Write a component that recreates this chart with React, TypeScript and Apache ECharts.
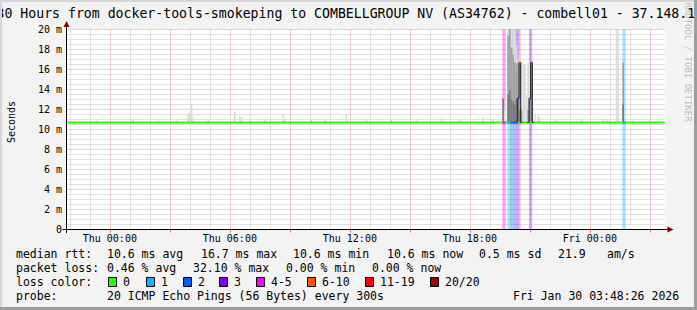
import React, { useEffect, useRef } from 'react';
import * as echarts from 'echarts';

// ---------- categories (5‑minute RRD steps) ----------
const DAY_NAMES = ['Wed', 'Thu', 'Fri'];
const FIRST_SLOT_MINUTES = 21 * 60 + 50; // Wed 21:50
const SLOT_MINUTES = 5;
const SLOT_COUNT = 360;
const pad = (n: number) => (n < 10 ? '0' + n : '' + n);
const categories: string[] = [];
for (let i = 0; i < SLOT_COUNT; i++) {
  const t = FIRST_SLOT_MINUTES + i * SLOT_MINUTES;
  const d = Math.floor(t / 1440);
  const m = t % 1440;
  categories.push(`${DAY_NAMES[d]} ${pad(Math.floor(m / 60))}:${pad(m % 60)}`);
}

// ---------- values ----------
const Y_MIN = 0;
const Y_MAX = 20;
const Y_STEP = 2;
const MEDIAN_RTT = 10.7; // ms, drawn median line level
// [slot index, median ms]
const medianSpikes: [number, number][] = [
  [271, 13.1], [272, 16.7], [278, 13.1], [279, 16.7],
];
// [slot index, loss class index]
const lossEvents: [number, number][] = [
  [262, 4], [263, 4], [265, 1], [266, 1], [267, 2], [268, 2], [269, 2],
  [270, 3], [271, 3], [272, 5], [278, 2], [279, 4], [334, 1], [335, 1],
];
// smoke layers: [slot index, low ms, high ms]
const smokeLight: [number, number, number][] = [
  [5, 10.6, 10.9], [18, 10.6, 10.9], [40, 10.6, 11.0], [55, 10.6, 10.9], [66, 10.6, 11.0],
  [73, 10.6, 11.6], [74, 10.6, 11.7], [75, 10.6, 12.6], [76, 10.6, 11.2],
  [85, 10.6, 11.0], [101, 10.6, 11.8], [104, 10.6, 11.3], [105, 10.6, 11.2], [110, 10.6, 11.1],
  [119, 10.6, 11.0], [130, 10.6, 11.5], [131, 10.6, 11.1], [147, 10.6, 11.0], [155, 10.6, 11.0],
  [168, 10.6, 11.6], [180, 10.6, 11.0], [195, 10.6, 11.1], [210, 10.6, 11.0], [225, 10.6, 11.2],
  [236, 10.6, 11.0], [250, 10.6, 11.2], [256, 10.6, 11.0],
  [262, 10.6, 13.1], [263, 10.6, 12.0], [265, 10.6, 20], [266, 10.6, 20], [267, 10.6, 20],
  [268, 10.6, 20], [269, 10.6, 20], [270, 10.6, 18.5], [271, 10.6, 17.0], [272, 10.6, 17.5],
  [273, 10.6, 16.8], [274, 10.6, 16.6], [275, 10.6, 16.5], [276, 10.6, 13.5], [277, 10.6, 16.7],
  [278, 10.6, 16.7], [279, 10.6, 16.7], [281, 10.6, 11.6],
  [283, 10.6, 11.4], [284, 10.6, 11.2], [294, 10.6, 11.0], [309, 10.6, 11.0], [322, 10.6, 11.0],
  [324, 10.6, 11.1], [326, 10.6, 11.0], [330, 10.6, 20], [331, 10.6, 20], [340, 10.6, 10.9],
  [350, 10.6, 11.0],
];
const smokeMid: [number, number, number][] = [
  [265, 10.6, 19.4], [266, 10.6, 20], [267, 10.6, 18.2], [268, 10.6, 17.5], [269, 10.6, 16.7],
  [270, 10.6, 16.5], [271, 10.6, 16.7], [272, 10.6, 16.7], [273, 10.6, 12.0], [277, 10.6, 12.0],
  [334, 10.6, 16.7],
];
const smokeDark: [number, number, number][] = [
  [262, 10.6, 13.1], [265, 10.6, 13.5], [266, 10.6, 14.0], [267, 10.6, 13.0], [268, 10.6, 12.8],
  [269, 10.6, 12.5], [270, 10.6, 13.1], [271, 10.6, 13.1], [272, 10.6, 12.0], [278, 10.6, 13.1],
  [279, 10.6, 16.7], [334, 10.6, 12.5],
];

const LOSS_COLORS = ['#26ff00', '#00b8ff', '#0059ff', '#7e00ff', '#ff00ff', '#ff5500', '#ff0000', '#a10000'];
const LOSS_LABELS = ['0', '1', '2', '3', '4-5', '6-10', '11-19', '20/20'];

const LEGEND_ROWS: { y: number; items: [number, string][] }[] = [
  { y: 254, items: [[16, 'median rtt:'], [107, '10.6 ms avg'], [201, '16.7 ms max'], [293, '10.6 ms min'], [387, '10.6 ms now'], [479, '0.5 ms sd'], [558, '21.9'], [607, 'am/s']] },
  { y: 268, items: [[16, 'packet loss:'], [107, '0.46 % avg'], [193, '32.10 % max'], [286, '0.00 % min'], [372, '0.00 % now']] },
  { y: 282, items: [[16, 'loss color:']] },
  { y: 296, items: [[16, 'probe:'], [107, '20 ICMP Echo Pings (56 Bytes) every 300s'], [513, 'Fri Jan 30 03:48:26 2026']] },
];
const LOSS_BOX_X = [108, 146, 183, 219, 256, 307, 365, 430];

const TITLE = '30 Hours from docker-tools-smokeping to COMBELLGROUP NV (AS34762) - combell01 - 37.148.1';

const MONO = '"DejaVu Sans Mono", monospace';

function rgba(hex: string, a: number) {
  const n = parseInt(hex.slice(1), 16);
  return `rgba(${(n >> 16) & 255},${(n >> 8) & 255},${n & 255},${a})`;
}
function parseHM(v: string) {
  const hm = v.slice(4);
  return { h: +hm.slice(0, 2), m: +hm.slice(3, 5) };
}
const labelFn = (_i: number, v: string) => { const { h, m } = parseHM(v); return m === 0 && h % 6 === 0; };
const redFn = (_i: number, v: string) => { const { h, m } = parseHM(v); return m === 0 && h % 3 === 0; };
const grayFn = (_i: number, v: string) => { const { h, m } = parseHM(v); return m === 0 && h % 3 !== 0; };

function smokeSeries(data: [number, number, number][], color: string, z: number) {
  return {
    type: 'custom',
    xAxisIndex: 1,
    z,
    silent: true,
    encode: { x: 0, y: [1, 2] },
    data,
    renderItem: (_p: any, api: any) => {
      const x = api.value(0);
      const p0 = api.coord([x, api.value(1)]);
      const p1 = api.coord([x, api.value(2)]);
      const w = api.size([1, 0])[0];
      return { type: 'rect', shape: { x: p0[0] - w / 2, y: p1[1], width: w, height: p0[1] - p1[1] }, style: { fill: color } };
    },
  };
}

export default function App() {
  const ref = useRef<HTMLDivElement>(null);
  useEffect(() => {
    document.body.style.margin = '0';
    if (!ref.current) return;
    const chart = echarts.init(ref.current, undefined, { renderer: 'svg' });

    const medianMap = new Map<number, number>(medianSpikes);
    const greenLine = categories.map(() => MEDIAN_RTT);
    const stepLine: (number | string)[] = categories.map(() => '-');
    medianSpikes.forEach(([i, v]) => {
      stepLine[i] = v;
      if (stepLine[i - 1] === '-') stepLine[i - 1] = MEDIAN_RTT;
      if (stepLine[i + 1] === '-') stepLine[i + 1] = MEDIAN_RTT;
    });
    const medianColored = lossEvents.map(([i, c]) => [i, medianMap.get(i) ?? MEDIAN_RTT, c]);

    const graphics: any[] = [];
    // frame
    graphics.push({ type: 'rect', shape: { x: 0, y: 0, width: 697, height: 2 }, style: { fill: '#d6d6d6' }, z: 100 });
    graphics.push({ type: 'rect', shape: { x: 0, y: 0, width: 2, height: 310 }, style: { fill: '#d6d6d6' }, z: 100 });
    graphics.push({ type: 'rect', shape: { x: 0, y: 307, width: 697, height: 3 }, style: { fill: '#9c9c9c' }, z: 100 });
    graphics.push({ type: 'rect', shape: { x: 694, y: 0, width: 3, height: 310 }, style: { fill: '#9c9c9c' }, z: 100 });
    // title
    graphics.push({ type: 'text', x: -3.5, y: 13, style: { text: TITLE, fill: '#000', font: `13.2px ${MONO}`, textAlign: 'left', textVerticalAlign: 'middle' }, z: 50 });
    // watermark
    graphics.push({ type: 'text', x: 688, y: 62, rotation: -Math.PI / 2, style: { text: 'RRDTOOL / TOBI OETIKER', fill: '#bdbdbd', font: `9px ${MONO}`, textAlign: 'center', textVerticalAlign: 'middle' }, z: 40 });
    // y axis name
    graphics.push({ type: 'text', x: 11, y: 122, rotation: Math.PI / 2, style: { text: 'Seconds', fill: '#000', font: `10px ${MONO}`, textAlign: 'center', textVerticalAlign: 'middle' }, z: 50 });
    // axes lines & arrows
    graphics.push({ type: 'line', shape: { x1: 62.5, y1: 229.5, x2: 668, y2: 229.5 }, style: { stroke: '#000', lineWidth: 1 }, z: 60 });
    graphics.push({ type: 'line', shape: { x1: 66.5, y1: 233, x2: 66.5, y2: 26 }, style: { stroke: '#000', lineWidth: 1 }, z: 60 });
    graphics.push({ type: 'polygon', shape: { points: [[66.5, 21], [63.5, 27], [69.5, 27]] }, style: { fill: '#800000' }, z: 61 });
    graphics.push({ type: 'polygon', shape: { points: [[673.5, 229.5], [667.5, 226.5], [667.5, 232.5]] }, style: { fill: '#800000' }, z: 61 });
    // legend text
    LEGEND_ROWS.forEach((row) => {
      row.items.forEach(([x, t]) => {
        graphics.push({ type: 'text', x, y: row.y, style: { text: t, fill: '#000', font: `11.5px ${MONO}`, textAlign: 'left', textVerticalAlign: 'middle' }, z: 50 });
      });
    });
    LOSS_COLORS.forEach((c, k) => {
      const bx = LOSS_BOX_X[k];
      graphics.push({ type: 'rect', shape: { x: bx + 0.5, y: 277.5, width: 8, height: 9 }, style: { fill: c, stroke: '#000', lineWidth: 1 }, z: 50 });
      graphics.push({ type: 'text', x: bx + 15, y: 282, style: { text: LOSS_LABELS[k], fill: '#000', font: `11.5px ${MONO}`, textAlign: 'left', textVerticalAlign: 'middle' }, z: 50 });
    });

    const option: any = {
      animation: false,
      backgroundColor: '#f3f3f3',
      grid: { left: 66.5, top: 29.5, width: (SLOT_COUNT - 1) * 600 / SLOT_COUNT, height: 200, show: true, backgroundColor: '#ffffff', borderWidth: 0 },
      xAxis: [
        {
          type: 'category', data: categories, boundaryGap: false, position: 'bottom',
          axisLine: { show: false }, axisTick: { show: false }, axisLabel: { show: false },
          splitLine: { show: true, interval: grayFn, lineStyle: { color: '#c4c4c4', width: 1, type: [1, 1] } },
        },
        {
          type: 'category', data: categories, boundaryGap: false, position: 'bottom',
          axisLine: { show: false },
          axisTick: { show: true, interval: redFn, length: 3, lineStyle: { color: '#d07070' } },
          axisLabel: { interval: labelFn, fontFamily: MONO, fontSize: 10, color: '#000', margin: 4 },
          splitLine: { show: true, interval: redFn, lineStyle: { color: '#e29a9a', width: 1, type: [1, 1] } },
        },
      ],
      yAxis: {
        type: 'value', min: Y_MIN, max: Y_MAX, interval: Y_STEP,
        axisLine: { show: false }, axisTick: { show: false },
        axisLabel: { formatter: (v: number) => (v === 0 ? '0' : `${v} m`), fontFamily: MONO, fontSize: 10, color: '#000', margin: 4.5 },
        splitLine: { show: true, lineStyle: { color: '#e29a9a', width: 1, type: [1, 1] } },
        minorTick: { show: false, splitNumber: 4 },
        minorSplitLine: { show: true, lineStyle: { color: '#c4c4c4', width: 1, type: [1, 1] } },
      },
      series: [
        {
          type: 'custom', xAxisIndex: 1, z: 1, silent: true, encode: { x: 0, y: 1 },
          data: lossEvents,
          renderItem: (_p: any, api: any) => {
            const x = api.value(0);
            const c = LOSS_COLORS[api.value(1)];
            const pb = api.coord([x, Y_MIN]);
            const pt = api.coord([x, Y_MAX]);
            const w = api.size([1, 0])[0];
            return { type: 'rect', shape: { x: pb[0] - w / 2, y: pt[1], width: w, height: pb[1] - pt[1] }, style: { fill: rgba(c, 0.36) } };
          },
        },
        smokeSeries(smokeLight, '#dcdcdc', 2),
        smokeSeries(smokeMid, '#a2a2a2', 3),
        smokeSeries(smokeDark, '#7a7a7a', 4),
        {
          type: 'line', xAxisIndex: 1, z: 5, data: greenLine, symbol: 'none', silent: true,
          lineStyle: { color: '#26ff00', width: 2 },
        },
        {
          type: 'line', xAxisIndex: 1, z: 6, data: stepLine, step: 'middle', symbol: 'none', silent: true,
          connectNulls: false, lineStyle: { color: '#222222', width: 1 },
        },
        {
          type: 'custom', xAxisIndex: 1, z: 7, silent: true, encode: { x: 0, y: 1 },
          data: medianColored,
          renderItem: (_p: any, api: any) => {
            const x = api.value(0);
            const p = api.coord([x, api.value(1)]);
            const w = api.size([1, 0])[0];
            return { type: 'rect', shape: { x: p[0] - w / 2, y: p[1] - 1, width: w, height: 2 }, style: { fill: LOSS_COLORS[api.value(2)] } };
          },
        },
      ],
      graphic: graphics,
    };
    chart.setOption(option);
    return () => chart.dispose();
  }, []);
  return <div ref={ref} style={{ width: 697, height: 310 }} />;
}
